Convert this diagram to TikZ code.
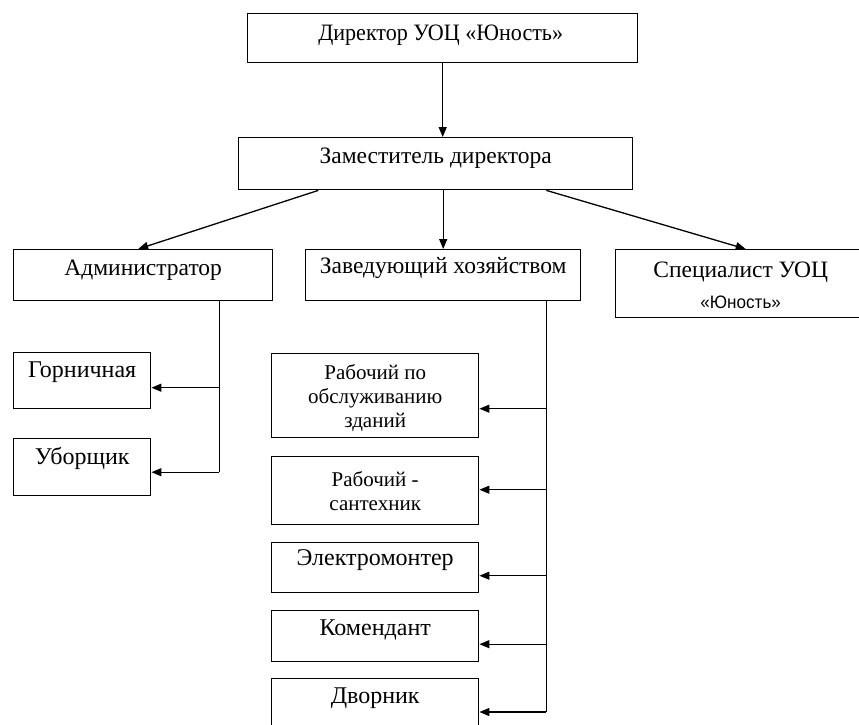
\documentclass[tikz,border=0pt]{standalone}
\usepackage{fontspec}
\setmainfont{Liberation Serif}
\newfontfamily\sansf{Liberation Sans}
\usetikzlibrary{arrows.meta,calc}
\begin{document}
\begin{tikzpicture}[x=1pt,y=-1pt,
  box/.style={draw, line width=1.4pt, rectangle, inner sep=0pt, anchor=north west},
  lbl/.style={inner sep=0pt, align=center},
  toptxt/.style={lbl, font=\fontsize{23.5}{27}\selectfont},
  lowtxt/.style={lbl, font=\fontsize{24}{27}\selectfont},
  twotxt/.style={lbl, font=\fontsize{21}{24}\selectfont},
  arr/.style={line width=1.3pt, -{Triangle[length=10pt,width=8pt]}},
  ln/.style={line width=1.3pt}]
\useasboundingbox (0,0) rectangle (859,724);
\clip (0,0) rectangle (859,724);
% boxes
\node[box, minimum width=390pt, minimum height=49pt] (dir) at (247,13) {};
\node[box, minimum width=394pt, minimum height=52pt] (dep) at (238,137) {};
\node[box, minimum width=259pt, minimum height=51pt] (adm) at (13,249) {};
\node[box, minimum width=275pt, minimum height=51pt] (zav) at (305,249) {};
\node[box, minimum width=260pt, minimum height=68pt] (spec) at (615,249) {};
\node[box, minimum width=137pt, minimum height=56pt] (gor) at (13,352) {};
\node[box, minimum width=137pt, minimum height=57pt] (ubo) at (13,438) {};
\node[box, minimum width=207pt, minimum height=84pt] (rab) at (271,353) {};
\node[box, minimum width=207pt, minimum height=68pt] (san) at (271,456) {};
\node[box, minimum width=207pt, minimum height=50pt] (ele) at (271,542) {};
\node[box, minimum width=207pt, minimum height=51pt] (kom) at (271,610) {};
\node[box, minimum width=207pt, minimum height=60pt] (dvo) at (271,678) {};
% texts
\node[toptxt] (dirt) at ($(dir.north)+(-2,22)$) {\scalebox{0.94}[1]{Директор УОЦ «Юность»}};
\node[toptxt] (dept) at ($(dep.north)+(0,21)$) {Заместитель директора};
\node[toptxt] (admt) at ($(adm.north)+(0,21)$) {Администратор};
\node[toptxt] (zavt) at ($(zav.north)+(0,19)$) {Заведующий хозяйством};
\node[toptxt] (spect) at ($(spec.north)+(-5,23)$) {Специалист УОЦ};
\node[lbl, font=\sansf\fontsize{18}{21}\selectfont] (spect2) at ($(spec.north)+(-5,53)$) {\scalebox{0.95}[1]{«Юность»}};
\node[lowtxt] (gort) at ($(gor.north)+(0,20)$) {Горничная};
\node[lowtxt] (ubot) at ($(ubo.north)+(0,20)$) {Уборщик};
\node[twotxt] (rabt) at ($(rab.north)+(0,45)$) {Рабочий по\\обслуживанию\\зданий};
\node[twotxt] (sant) at ($(san.north)+(0,35)$) {Рабочий -\\сантехник};
\node[lowtxt] (elet) at ($(ele.north)+(0,18)$) {Электромонтер};
\node[lowtxt] (komt) at ($(kom.north)+(0,20)$) {Комендант};
\node[lowtxt] (dvot) at ($(dvo.north)+(0,20)$) {Дворник};
% connectors from top
\draw[arr] (dir.south) -- (dir.south |- dep.north);
\draw[arr] ($(dep.south west)!0.203!(dep.south east)$) -- ($(adm.north)+(-5,0)$);
\draw[arr] (zav.north |- dep.south) -- (zav.north);
\draw[arr] ($(dep.south west)!0.78!(dep.south east)$) -- ($(spec.north)+(0,0)$);
% administrator branch
\coordinate (a1) at ($(adm.south west)!0.792!(adm.south east)$);
\coordinate (g1) at ($(gor.east)+(0,7)$);
\coordinate (u1) at ($(ubo.east)+(0,5)$);
\draw[ln] (a1) -- (a1 |- u1);
\draw[arr] (a1 |- g1) -- (g1);
\draw[arr] (a1 |- u1) -- (u1);
% household branch
\coordinate (z1) at ($(zav.south west)!0.873!(zav.south east)$);
\coordinate (r1) at ($(rab.east)+(0,13)$);
\coordinate (r2) at ($(san.east)+(0,-1)$);
\coordinate (r3) at ($(ele.east)+(0,8)$);
\coordinate (r4) at ($(kom.east)+(0,8)$);
\coordinate (r5) at ($(dvo.north east)+(0,34)$);
\draw[ln] (z1) -- (z1 |- r5);
\draw[arr] (z1 |- r1) -- (r1);
\draw[arr] (z1 |- r2) -- (r2);
\draw[arr] (z1 |- r3) -- (r3);
\draw[arr] (z1 |- r4) -- (r4);
\draw[arr] (z1 |- r5) -- (r5);
\end{tikzpicture}
\end{document}
